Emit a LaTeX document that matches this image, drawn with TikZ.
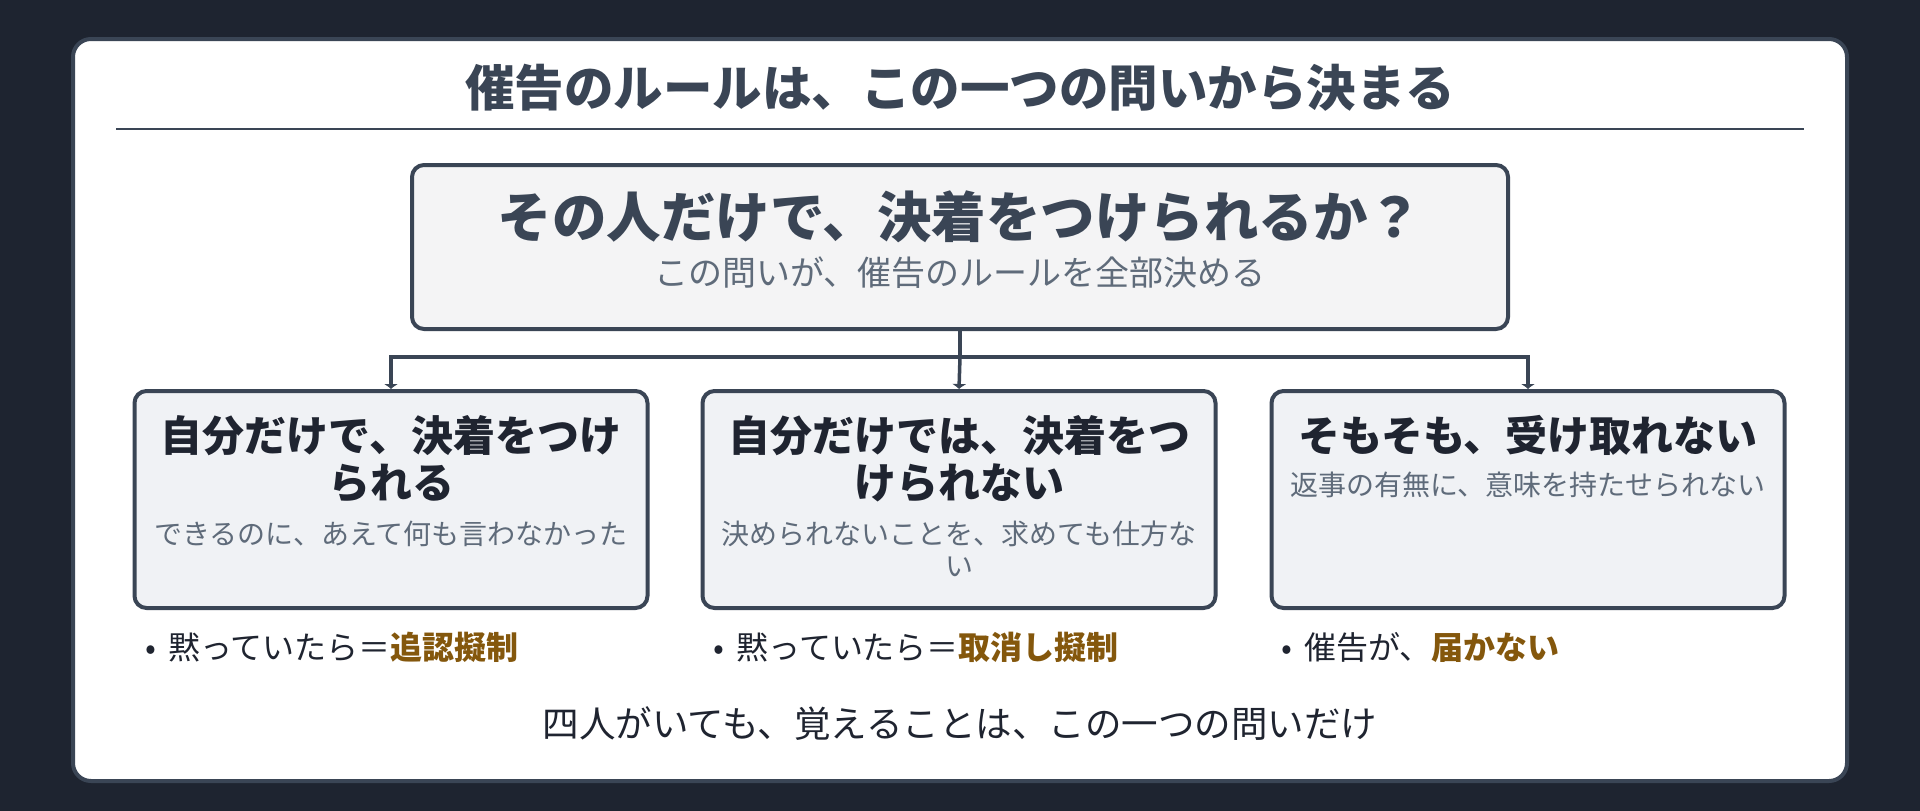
\documentclass[tikz,border=0pt]{standalone}
\usepackage{fontspec}
\setmainfont{Noto Sans CJK JP}
\usetikzlibrary{positioning,arrows.meta}
\definecolor{bgdark}{HTML}{1E2430}
\definecolor{slate}{HTML}{3A4555}
\definecolor{ink}{HTML}{1F2430}
\definecolor{mute}{HTML}{5F6B7A}
\definecolor{amber}{HTML}{84570C}
\definecolor{qgray}{HTML}{F4F4F5}
\definecolor{cgray}{HTML}{F0F2F5}
\begin{document}
\begin{tikzpicture}[x=1pt,y=-1pt,
  panel/.style={draw=slate,line width=4pt,fill=white,rounded corners=18pt},
  qbox/.style={draw=slate,line width=4pt,fill=qgray,rounded corners=12pt,minimum width=1096pt,minimum height=164pt},
  card/.style={draw=slate,line width=4pt,fill=cgray,rounded corners=12pt,minimum width=513pt,minimum height=217pt},
  conn/.style={draw=slate,line width=3.5pt},
  tip/.style={-{Latex[length=5pt,width=15pt]}},
  ttl/.style={text=slate,font=\fontsize{49.5}{56}\selectfont\bfseries},
  qmain/.style={text=slate,font=\fontsize{54.5}{60}\selectfont\bfseries},
  qsub/.style={text=mute,font=\fontsize{34}{38}\selectfont},
  ctitle/.style={text=ink,align=center,inner sep=0pt,font=\fontsize{42}{47}\selectfont\bfseries},
  csub/.style={text=mute,align=center,inner sep=0pt,font=\fontsize{28}{32}\selectfont},
  bul/.style={text=ink,anchor=west,inner sep=0pt,font=\fontsize{32}{36}\selectfont},
  foot/.style={text=ink,font=\fontsize{36.5}{40}\selectfont}]
\fill[bgdark] (0,0) rectangle (1920,811);
\draw[panel] (73,39) rectangle (1847,781);
\node[ttl] (title) at (960,88) {催告のルールは、この一つの問いから決まる};
\draw[slate,line width=2.5pt] (116,129) -- (1804,129);

\node[qbox] (q) at (960,247) {};
\node[qmain] (qm) at (960,217) {その人だけで、決着をつけられるか？};
\node[qsub] (qs) at (960,273) {この問いが、催告のルールを全部決める};

\node[card] (c1) at (391,499.5) {};
\node[card] (c2) at (959,499.5) {};
\node[card] (c3) at (1528,499.5) {};
\node[ctitle,below=26pt of c1.north] (t1) {自分だけで、決着をつけ\\られる};
\node[csub,below=18pt of t1] (s1) {できるのに、あえて何も言わなかった};
\node[ctitle,below=26pt of c2.north] (t2) {自分だけでは、決着をつ\\けられない};
\node[csub,below=18pt of t2] (s2) {決められないことを、求めても仕方な\\い};
\node[ctitle,below=26pt of c3.north] (t3) {そもそも、受け取れない};
\node[csub,below=16pt of t3] (s3) {返事の有無に、意味を持たせられない};

\coordinate (bus) at (960,357);
\draw[conn] (q.south) -- (bus);
\draw[conn,tip] (bus) -| (c1.north);
\draw[conn,tip] (bus) -- (c2.north);
\draw[conn,tip] (bus) -| (c3.north);

\node[bul] (b1) at (145,647) {•\, 黙っていたら＝{\bfseries\color{amber}追認擬制}};
\node[bul] (b2) at (713,647) {•\, 黙っていたら＝{\bfseries\color{amber}取消し擬制}};
\node[bul] (b3) at (1281,647) {•\, 催告が、{\bfseries\color{amber}届かない}};

\node[foot] (ft) at (960,724) {四人がいても、覚えることは、この一つの問いだけ};
\end{tikzpicture}
\end{document}
